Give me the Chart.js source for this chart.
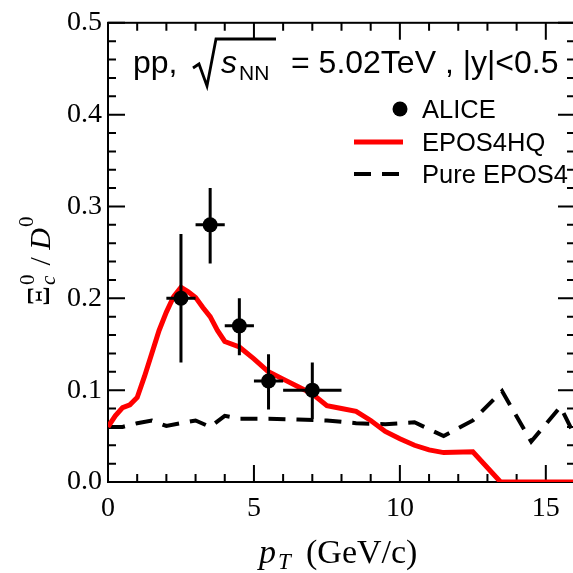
<!DOCTYPE html>
<html><head><meta charset="utf-8">
<script src="https://cdn.jsdelivr.net/npm/chart.js@4"></script>
<style>
html,body{margin:0;padding:0;overflow:hidden;background:#fff;width:573px;height:573px}
#wrap{width:582px;height:573px;position:relative}
</style></head><body>
<div id="wrap"><canvas id="c"></canvas></div>
<script>
// ALICE data
const aliceX=[2.5,3.5,4.5,5.5,7.0];
const aliceY=[0.200,0.280,0.170,0.110,0.100];
const aliceXErr=[0.5,0.5,0.5,0.5,1.0];
const aliceYLow=[0.130,0.238,0.138,0.079,0.069];
const aliceYHigh=[0.270,0.320,0.200,0.139,0.130];
// EPOS4HQ curve
const eposHQX=[0,0.25,0.5,0.75,1.0,1.25,1.5,1.75,2.0,2.25,2.5,2.75,3.0,3.25,3.5,3.75,4.0,4.5,5.0,5.5,6.0,6.5,7.0,7.5,8.0,8.5,9.0,9.5,10.0,10.5,11.0,11.5,12.5,13.45,16];
const eposHQY=[0.060,0.072,0.081,0.084,0.092,0.115,0.140,0.165,0.185,0.202,0.212,0.207,0.201,0.190,0.180,0.165,0.153,0.147,0.134,0.120,0.112,0.104,0.096,0.083,0.080,0.077,0.067,0.055,0.047,0.040,0.035,0.032,0.033,0.0,0.0];
// Pure EPOS4 curve
const pureX=[0,0.5,1.0,1.5,2.0,2.5,3.0,3.5,4.0,4.5,5.5,6.5,7.5,8.5,9.5,10.5,11.5,12.5,13.5,14.5,15.5,16];
const pureY=[0.060,0.060,0.064,0.067,0.061,0.064,0.067,0.060,0.072,0.069,0.069,0.068,0.067,0.064,0.063,0.065,0.050,0.067,0.099,0.044,0.082,0.050];
// ticks
const xTicks=[0,5,10,15];
const xMinor=[1,2,3,4,6,7,8,9,11,12,13,14,16];
const yTicks=[0,0.1,0.2,0.3,0.4,0.5];
const yMinor=[0.02,0.04,0.06,0.08,0.12,0.14,0.16,0.18,0.22,0.24,0.26,0.28,0.32,0.34,0.36,0.38,0.42,0.44,0.46,0.48];
const legendLabels=['ALICE','EPOS4HQ','Pure EPOS4'];

const SERIF='"Liberation Serif","Times New Roman",serif';
const SANS='"Liberation Sans",Arial,sans-serif';

const framePlugin={
  id:'frame',
  beforeDatasetsDraw(chart){
    const {ctx,chartArea:a,scales:{x,y}}=chart;
    ctx.save();
    ctx.strokeStyle='#000';ctx.lineWidth=2;
    ctx.strokeRect(a.left,a.top,a.right-a.left,a.bottom-a.top);
    ctx.beginPath();
    const MAJ=17,MIN=8;
    xTicks.forEach(v=>{const p=x.getPixelForValue(v);ctx.moveTo(p,a.bottom);ctx.lineTo(p,a.bottom-MAJ);ctx.moveTo(p,a.top);ctx.lineTo(p,a.top+MAJ);});
    xMinor.forEach(v=>{const p=x.getPixelForValue(v);ctx.moveTo(p,a.bottom);ctx.lineTo(p,a.bottom-MIN);ctx.moveTo(p,a.top);ctx.lineTo(p,a.top+MIN);});
    yTicks.forEach(v=>{const p=y.getPixelForValue(v);ctx.moveTo(a.left,p);ctx.lineTo(a.left+MAJ,p);ctx.moveTo(a.right,p);ctx.lineTo(a.right-MAJ,p);});
    yMinor.forEach(v=>{const p=y.getPixelForValue(v);ctx.moveTo(a.left,p);ctx.lineTo(a.left+MIN,p);ctx.moveTo(a.right,p);ctx.lineTo(a.right-MIN,p);});
    ctx.stroke();
    ctx.restore();
  },
  afterDatasetsDraw(chart){
    const {ctx,scales:{x,y}}=chart;
    ctx.save();
    ctx.strokeStyle='#000';ctx.lineWidth=3;
    ctx.beginPath();
    aliceX.forEach((xv,i)=>{
      const px=x.getPixelForValue(xv),py=y.getPixelForValue(aliceY[i]);
      ctx.moveTo(x.getPixelForValue(xv-aliceXErr[i]),py);ctx.lineTo(x.getPixelForValue(xv+aliceXErr[i]),py);
      ctx.moveTo(px,y.getPixelForValue(aliceYLow[i]));ctx.lineTo(px,y.getPixelForValue(aliceYHigh[i]));
    });
    ctx.stroke();
    ctx.fillStyle='#000';
    aliceX.forEach((xv,i)=>{ctx.beginPath();ctx.arc(x.getPixelForValue(xv),y.getPixelForValue(aliceY[i]),7.5,0,Math.PI*2);ctx.fill();});
    ctx.restore();
  },
  afterDraw(chart){
    const ctx=chart.ctx;
    ctx.save();
    ctx.fillStyle='#000';ctx.textBaseline='alphabetic';ctx.textAlign='left';
    // header
    ctx.font='32px '+SANS;
    ctx.fillText('pp,',133,73);
    ctx.strokeStyle='#000';ctx.lineWidth=2.8;ctx.lineJoin='miter';
    ctx.beginPath();ctx.moveTo(193,68);ctx.lineTo(199,64);ctx.lineTo(207,86);ctx.lineTo(216,39);ctx.lineTo(276,39);ctx.stroke();
    ctx.font='italic 32px '+SANS;ctx.fillText('s',221,73);
    ctx.font='21px '+SANS;ctx.fillText('NN',239,80);
    ctx.font='32px '+SANS;ctx.fillText('= 5.02TeV , |y|<0.5',291,73);
    // legend
    ctx.font='25.5px '+SANS;
    ctx.beginPath();ctx.arc(400,109,7.5,0,Math.PI*2);ctx.fill();
    ctx.fillText(legendLabels[0],422,118);
    ctx.strokeStyle='#ff0000';ctx.lineWidth=5;ctx.beginPath();ctx.moveTo(354,142);ctx.lineTo(403,142);ctx.stroke();
    ctx.fillText(legendLabels[1],422,151);
    ctx.strokeStyle='#000';ctx.lineWidth=4;ctx.setLineDash([17,11]);ctx.beginPath();ctx.moveTo(354,174);ctx.lineTo(401,174);ctx.stroke();ctx.setLineDash([]);
    ctx.fillText(legendLabels[2],422,183);
    // x title
    ctx.font='italic 34px '+SERIF;ctx.fillText('p',259,563);
    ctx.font='italic 23px '+SERIF;ctx.fillText('T',278,569);
    ctx.font='34px '+SERIF;ctx.fillText('(GeV/c)',306,563);
    // y title (rotated)
    ctx.translate(50,252);ctx.rotate(-Math.PI/2);
    let u=-54;
    ctx.font='31px '+SERIF;ctx.fillText('Ξ',u,-1);u+=ctx.measureText('Ξ').width+1;
    ctx.font='italic 21px '+SERIF;ctx.fillText('c',u,5);
    ctx.font='21px '+SERIF;ctx.fillText('0',u,-16);u+=12;
    ctx.font='30px '+SERIF;ctx.fillText(' / ',u,0);u+=ctx.measureText(' / ').width;
    ctx.font='italic 30px '+SERIF;ctx.fillText('D',u,0);u+=ctx.measureText('D').width+1;
    ctx.font='21px '+SERIF;ctx.fillText('0',u,-17);
    ctx.restore();
  }
};

new Chart(document.getElementById('c'),{
  type:'line',
  data:{datasets:[
    {label:legendLabels[0],data:aliceX.map((v,i)=>({x:v,y:aliceY[i]})),showLine:false,pointRadius:0,borderColor:'#000',backgroundColor:'#000'},
    {label:legendLabels[1],data:eposHQX.map((v,i)=>({x:v,y:eposHQY[i]})),borderColor:'#ff0000',borderWidth:5,pointRadius:0,tension:0,fill:false},
    {label:legendLabels[2],data:pureX.map((v,i)=>({x:v,y:pureY[i]})),borderColor:'#000',borderWidth:4,borderDash:[17,11],pointRadius:0,tension:0,fill:false}
  ]},
  options:{
    responsive:true,maintainAspectRatio:false,animation:false,
    layout:{padding:{left:0,top:16,right:7,bottom:0}},
    plugins:{legend:{display:false},tooltip:{enabled:false},title:{display:false}},
    scales:{
      x:{type:'linear',min:0,max:16,
        afterBuildTicks:s=>{s.ticks=xTicks.map(v=>({value:v}));},
        afterFit:s=>{s.height=91;},
        grid:{display:false,drawTicks:false},border:{display:false},
        ticks:{padding:10,color:'#000',font:{family:SERIF,size:28},maxRotation:0,autoSkip:false,callback:v=>String(v)}},
      y:{type:'linear',min:0,max:0.5,
        afterBuildTicks:s=>{s.ticks=yTicks.map(v=>({value:v}));},
        afterFit:s=>{s.width=108;},
        grid:{display:false,drawTicks:false},border:{display:false},
        ticks:{padding:6,color:'#000',font:{family:SERIF,size:28},autoSkip:false,callback:v=>Number(v).toFixed(1)}}
    }
  },
  plugins:[framePlugin]
});
</script>
</body></html>
